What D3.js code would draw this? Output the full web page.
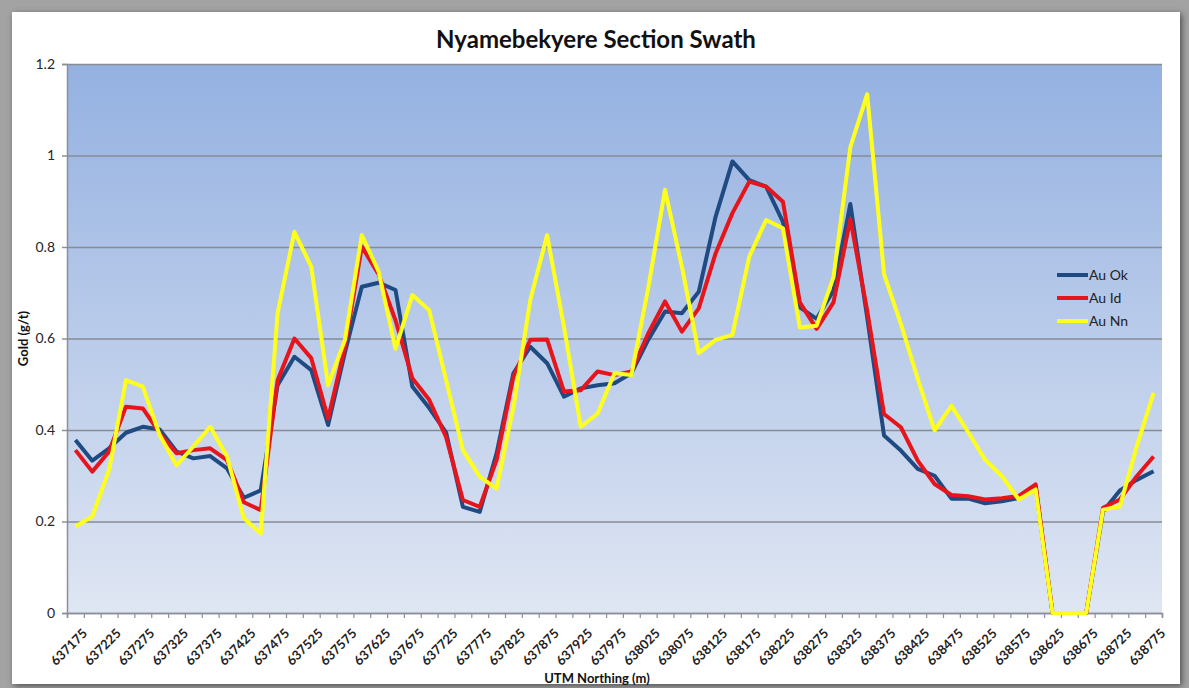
<!DOCTYPE html>
<html>
<head>
<meta charset="utf-8">
<script src="https://cdn.jsdelivr.net/npm/d3@7/dist/d3.min.js"></script>
<style>
  html, body { margin: 0; padding: 0; background: #a0a0a0; overflow: hidden; }
  svg { display: block; font-family: Lato, "DejaVu Sans", sans-serif; }
</style>
</head>
<body>
<svg id="swath"></svg>
<script>
// categories (UTM northing, every 25 m)
const northing = [
    637175, 637200, 637225, 637250, 637275, 637300, 637325, 637350, 637375, 637400,
    637425, 637450, 637475, 637500, 637525, 637550, 637575, 637600, 637625, 637650,
    637675, 637700, 637725, 637750, 637775, 637800, 637825, 637850, 637875, 637900,
    637925, 637950, 637975, 638000, 638025, 638050, 638075, 638100, 638125, 638150,
    638175, 638200, 638225, 638250, 638275, 638300, 638325, 638350, 638375, 638400,
    638425, 638450, 638475, 638500, 638525, 638550, 638575, 638600, 638625, 638650,
    638675, 638700, 638725, 638750, 638775
];

// gold grades (g/t)
const auOk = [
    0.378, 0.333, 0.360, 0.394, 0.407, 0.401, 0.353, 0.338, 0.343, 0.316,
    0.252, 0.268, 0.498, 0.560, 0.531, 0.411, 0.570, 0.713, 0.722, 0.706,
    0.495, 0.448, 0.395, 0.232, 0.221, 0.349, 0.524, 0.582, 0.546, 0.473,
    0.491, 0.498, 0.502, 0.524, 0.597, 0.659, 0.655, 0.702, 0.866, 0.987,
    0.946, 0.932, 0.855, 0.668, 0.643, 0.705, 0.894, 0.646, 0.388, 0.355,
    0.315, 0.300, 0.250, 0.250, 0.240, 0.244, 0.251, 0.277, 0, 0,
    0, 0.222, 0.268, 0.291, 0.310
];
const auId = [
    0.356, 0.309, 0.353, 0.451, 0.447, 0.393, 0.349, 0.356, 0.360, 0.334,
    0.242, 0.225, 0.509, 0.600, 0.557, 0.425, 0.582, 0.801, 0.740, 0.640,
    0.513, 0.466, 0.385, 0.247, 0.232, 0.334, 0.517, 0.597, 0.598, 0.484,
    0.487, 0.528, 0.520, 0.528, 0.611, 0.681, 0.615, 0.666, 0.786, 0.874,
    0.943, 0.932, 0.899, 0.679, 0.621, 0.679, 0.861, 0.661, 0.435, 0.406,
    0.333, 0.282, 0.258, 0.255, 0.248, 0.251, 0.256, 0.281, 0, 0,
    0, 0.230, 0.248, 0.299, 0.342
];
const auNn = [
    0.189, 0.211, 0.313, 0.509, 0.495, 0.389, 0.323, 0.364, 0.407, 0.342,
    0.207, 0.174, 0.655, 0.833, 0.757, 0.498, 0.597, 0.826, 0.746, 0.578,
    0.695, 0.662, 0.510, 0.356, 0.298, 0.272, 0.450, 0.684, 0.826, 0.626,
    0.407, 0.436, 0.524, 0.520, 0.710, 0.925, 0.757, 0.568, 0.597, 0.608,
    0.779, 0.859, 0.841, 0.624, 0.628, 0.734, 1.018, 1.134, 0.741, 0.632,
    0.512, 0.399, 0.453, 0.395, 0.335, 0.299, 0.248, 0.270, 0, 0,
    0, 0.226, 0.233, 0.364, 0.481
];

const seriesNames = ["Au Ok", "Au Id", "Au Nn"];
const yTicks = [0, 0.2, 0.4, 0.6, 0.8, 1, 1.2];

function drawSwath() {
    var wtot = 1189,
        htot = 688;

    // plot area
    var margin = { top: 64, right: 27, bottom: 75, left: 67 },
        width = wtot - margin.left - margin.right,
        height = htot - margin.top - margin.bottom;

    var colorArray = ["#1f4a82", "#e6141b", "#ffff1e"];
    var seriesData = [auOk, auId, auNn];

    const svg = d3.select("#swath")
        .attr("width", wtot)
        .attr("height", htot)
        .attr("viewBox", "0 0 " + wtot + " " + htot);

    const defs = svg.append("defs");
    const grad = defs.append("linearGradient")
        .attr("id", "plotbg")
        .attr("x1", 0).attr("y1", 0).attr("x2", 0).attr("y2", 1);
    grad.append("stop").attr("offset", "0%").attr("stop-color", "#94b1e1");
    grad.append("stop").attr("offset", "100%").attr("stop-color", "#dfe6f3");

    const shadow = defs.append("filter")
        .attr("id", "shadow")
        .attr("x", "-5%").attr("y", "-5%").attr("width", "110%").attr("height", "110%");
    shadow.append("feDropShadow")
        .attr("dx", 2).attr("dy", 2)
        .attr("stdDeviation", 3)
        .attr("flood-color", "#444")
        .attr("flood-opacity", 0.9);

    // picture frame
    svg.append("rect")
        .attr("x", 0).attr("y", 0)
        .attr("width", wtot).attr("height", htot)
        .attr("fill", "#a3a3a3");
    svg.append("rect")
        .attr("x", 12).attr("y", 12)
        .attr("width", 1168).attr("height", 672)
        .attr("fill", "#fff")
        .attr("filter", "url(#shadow)");

    // scales
    const xScale = d3.scaleBand(northing, [margin.left, margin.left + width]).padding(0);
    const xIndex = d3.scaleLinear([0, northing.length], [margin.left, margin.left + width]);
    const yScale = d3.scaleLinear([0, 1.2], [margin.top + height, margin.top]);

    svg.append("rect")
        .attr("x", margin.left).attr("y", margin.top)
        .attr("width", width).attr("height", height)
        .attr("fill", "url(#plotbg)");

    // yAxis + gridlines
    svg.append("g")
        .attr("transform", `translate(${margin.left},0)`)
        .call(d3.axisLeft(yScale).tickValues(yTicks).tickSize(5).tickPadding(7).tickFormat(d3.format("~g")))
        .call(g => g.select(".domain").attr("stroke", "#8c9099").attr("stroke-width", 1.5))
        .call(g => g.selectAll(".tick line").attr("stroke", "#8c9099").attr("stroke-width", 1.5))
        .call(g => g.selectAll(".tick line").clone()
            .attr("x1", 0)
            .attr("x2", width)
            .attr("stroke", "#868b94")
            .attr("stroke-width", 1.6))
        .call(g => g.selectAll(".tick text")
            .attr("fill", "#262626")
            .style("font-size", "14px")
            .style("font-family", "Lato, sans-serif"));

    // xAxis tick marks on category boundaries
    svg.append("g")
        .attr("transform", `translate(0,${margin.top + height})`)
        .call(d3.axisBottom(xIndex).tickValues(d3.range(northing.length + 1)).tickSize(5).tickFormat(""))
        .call(g => g.select(".domain").attr("stroke", "#8c9099").attr("stroke-width", 1.6))
        .call(g => g.selectAll(".tick line").attr("stroke", "#8c9099").attr("stroke-width", 1.2));

    // xAxis labels, every 50 m
    svg.append("g")
        .attr("transform", `translate(${xScale.bandwidth() / 2},${margin.top + height})`)
        .call(d3.axisBottom(xScale).tickValues(northing.filter((d, i) => i % 2 === 0)).tickSize(0))
        .call(g => g.select(".domain").remove())
        .call(g => g.selectAll(".tick text")
            .attr("x", 0)
            .attr("y", 0)
            .attr("dy", "0.35em")
            .attr("text-anchor", "end")
            .attr("transform", "translate(1,18) rotate(-45)")
            .attr("fill", "#222")
            .style("font-size", "13px")
            .style("font-weight", "bold")
            .style("font-family", "Lato, sans-serif"));

    // lines
    const line = d3.line()
        .curve(d3.curveLinear)
        .x((d, i) => xScale(northing[i]) + xScale.bandwidth() / 2)
        .y(d => yScale(d));

    svg.append("g")
        .attr("fill", "none")
        .attr("stroke-width", 4)
        .attr("stroke-linejoin", "round")
        .selectAll("path")
        .data(seriesData)
        .join("path")
        .attr("stroke", (d, i) => colorArray[i])
        .attr("d", d => line(d));

    // legend
    const legend = svg.append("g")
        .attr("transform", "translate(1057,275)")
        .selectAll("g")
        .data(seriesNames)
        .join("g")
        .attr("transform", (d, i) => `translate(0,${i * 23})`);
    legend.append("line")
        .attr("x1", 0).attr("x2", 31)
        .attr("stroke", (d, i) => colorArray[i])
        .attr("stroke-width", 4);
    legend.append("text")
        .attr("x", 32)
        .attr("dy", "0.35em")
        .attr("fill", "#222")
        .style("font-size", "14px")
        .text(d => d);

    // titles
    svg.append("text")
        .attr("x", 596)
        .attr("y", 48)
        .attr("text-anchor", "middle")
        .attr("fill", "#111")
        .style("font-size", "24px")
        .style("font-weight", "bold")
        .text("Nyamebekyere Section Swath");

    svg.append("text")
        .attr("transform", `translate(28,${margin.top + height / 2}) rotate(-90)`)
        .attr("text-anchor", "middle")
        .attr("fill", "#111")
        .style("font-size", "13px")
        .style("font-weight", "bold")
        .text("Gold (g/t)");

    svg.append("text")
        .attr("x", 597)
        .attr("y", 683)
        .attr("text-anchor", "middle")
        .attr("fill", "#111")
        .style("font-size", "13px")
        .style("font-weight", "bold")
        .text("UTM Northing (m)");
}

drawSwath();
</script>
</body>
</html>
